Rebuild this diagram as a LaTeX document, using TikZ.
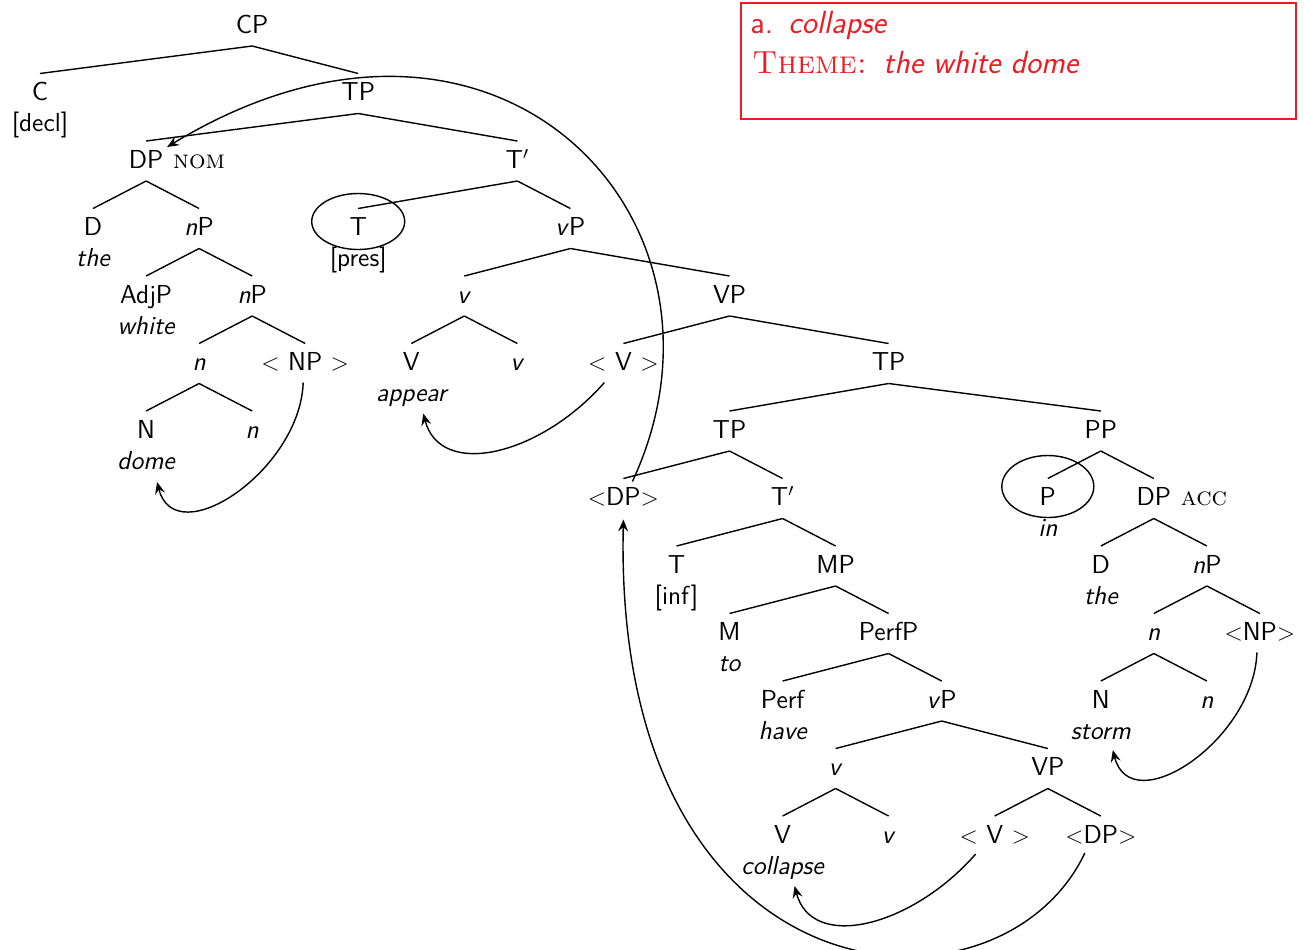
\documentclass[tikz,border=0pt]{standalone}
\usetikzlibrary{calc,arrows.meta}
\definecolor{boxred}{RGB}{237,28,36}
\tikzset{
  w/.style={anchor=base, inner sep=0pt, font=\fontsize{13}{15}\selectfont\sffamily},
  lex/.style={w, font=\fontsize{13}{15}\selectfont\sffamily\itshape},
  feat/.style={w, anchor=base west, font=\fontsize{13}{15}\selectfont\rmfamily\scshape},
  branch/.style={line width=0.7pt},
  move/.style={line width=0.7pt, -{Stealth[length=6pt,width=5pt,inset=2.2pt]}},
  bx/.style={anchor=base west, inner sep=0pt, text=boxred, font=\fontsize{16}{18}\selectfont\sffamily},
}
% branch from the bottom of a mother label to the top of a daughter label
\newcommand\br[2]{\draw[branch] ($(#1.base)+(0,13)$) -- ($(#2.base)+(0,-27)$);}
\begin{document}
\begin{tikzpicture}[x=0.5pt,y=-0.5pt]
\useasboundingbox (0,0) rectangle (1304,949);

% ---- category labels, row by row ----
\node[w] (cp)    at (252.2,33)    {CP};
\node[w] (c)     at (40,100.5)    {C};
\node[w] (tpa)   at (358.2,100.5) {TP};
\node[w] (dpa)   at (146.1,168)   {DP};
\node[w] (tba)   at (517.4,168)   {T$'$};
\node[w] (da)    at (93,235.5)    {D};
\node[w] (npa)   at (199.1,235.5) {\textit{n}P};
\node[w] (ta)    at (358.2,235.5) {T};
\node[w] (vpa)   at (570.4,235.5) {\textit{v}P};
\node[w] (adjp)  at (146.1,303)   {AdjP};
\node[w] (npb)   at (252.2,303)   {\textit{n}P};
\node[w] (va)    at (464.3,303)   {\textit{v}};
\node[w] (bigvpa) at (729.5,303)  {VP};
\node[w] (na)    at (199.1,370.5) {\textit{n}};
\node[w] (npta)  at (305.2,370.5) {$<$ NP $>$};
\node[w] (bva)   at (411.3,370.5) {V};
\node[w] (vb)    at (517.4,370.5) {\textit{v}};
\node[w] (vta)   at (623.4,370.5) {$<$ V $>$};
\node[w] (tpb)   at (888.6,370.5) {TP};
\node[w] (bna)   at (146.1,438)   {N};
\node[w] (nb)    at (252.2,438)   {\textit{n}};
\node[w] (tpc)   at (729.5,438)   {TP};
\node[w] (pp)    at (1100.8,438)  {PP};
\node[w] (dpta)  at (623.4,505.5) {$<$DP$>$};
\node[w] (tbb)   at (782.6,505.5) {T$'$};
\node[w] (p)     at (1047.8,505.5) {P};
\node[w] (dpb)   at (1153.8,505.5) {DP};
\node[w] (tb)    at (676.5,573)   {T};
\node[w] (mp)    at (835.6,573)   {MP};
\node[w] (db)    at (1100.8,573)  {D};
\node[w] (npc)   at (1206.9,573)  {\textit{n}P};
\node[w] (m)     at (729.5,640.5) {M};
\node[w] (perfp) at (888.6,640.5) {PerfP};
\node[w] (nc)    at (1153.8,640.5) {\textit{n}};
\node[w] (nptb)  at (1259.9,640.5) {$<$NP$>$};
\node[w] (perf)  at (782.6,708)   {Perf};
\node[w] (vpb)   at (941.7,708)   {\textit{v}P};
\node[w] (bnb)   at (1100.8,708)  {N};
\node[w] (nd)    at (1206.9,708)  {\textit{n}};
\node[w] (vc)    at (835.6,775.5) {\textit{v}};
\node[w] (bigvpb) at (1047.8,775.5) {VP};
\node[w] (bvb)   at (782.6,843)   {V};
\node[w] (vd)    at (888.6,843)   {\textit{v}};
\node[w] (vtb)   at (994.7,843)   {$<$ V $>$};
\node[w] (dptb)  at (1100.8,843)  {$<$DP$>$};

% ---- case features ----
\node[feat] (nom) at ($(dpa.base east)+(9,0)$) {nom};
\node[feat] (acc) at ($(dpb.base east)+(9,0)$) {acc};

% ---- words and feature values under the heads ----
\node[w]   (decl)     at (40,131.5)     {[decl]};
\node[lex] (thea)     at (93,266.5)     {the};
\node[w]   (pres)     at (358.2,266.5)  {[pres]};
\node[lex] (white)    at (146.1,334)    {white};
\node[lex] (appear)   at (411.3,401.5)  {appear};
\node[lex] (dome)     at (146.1,469)    {dome};
\node[lex] (in)       at (1047.8,536.5) {in};
\node[w]   (inf)      at (676.5,604)    {[inf]};
\node[lex] (theb)     at (1100.8,604)   {the};
\node[lex] (to)       at (729.5,671.5)  {to};
\node[lex] (have)     at (782.6,739)    {have};
\node[lex] (storm)    at (1100.8,739)   {storm};
\node[lex] (collapse) at (782.6,874)    {collapse};

% ---- branches ----
\br{cp}{c}   \br{cp}{tpa}
\br{tpa}{dpa} \br{tpa}{tba}
\br{dpa}{da} \br{dpa}{npa}
\br{tba}{ta} \br{tba}{vpa}
\br{npa}{adjp} \br{npa}{npb}
\br{vpa}{va} \br{vpa}{bigvpa}
\br{npb}{na} \br{npb}{npta}
\br{va}{bva} \br{va}{vb}
\br{bigvpa}{vta} \br{bigvpa}{tpb}
\br{na}{bna} \br{na}{nb}
\br{tpb}{tpc} \br{tpb}{pp}
\br{tpc}{dpta} \br{tpc}{tbb}
\br{pp}{p} \br{pp}{dpb}
\br{tbb}{tb} \br{tbb}{mp}
\br{dpb}{db} \br{dpb}{npc}
\br{mp}{m} \br{mp}{perfp}
\br{npc}{nc} \br{npc}{nptb}
\br{perfp}{perf} \br{perfp}{vpb}
\br{nc}{bnb} \br{nc}{nd}
\br{vpb}{vc} \br{vpb}{bigvpb}
\br{vc}{bvb} \br{vc}{vd}
\br{bigvpb}{vtb} \br{bigvpb}{dptb}

% ---- circled heads ----
\draw[branch] ($(ta.base)+(0,-14)$) ellipse [x radius=23.25pt, y radius=14pt];
\draw[branch] ($(p.base)+(0,-19)$) ellipse [x radius=23pt, y radius=15.5pt];

% ---- movement ----
\draw[move] ($(npta.base)+(-2,12)$) .. controls +(-3,88) and +(18,72) .. ($(dome.base)+(11,13)$);
\draw[move] ($(nptb.base)+(-3,12)$) .. controls +(-3,88) and +(18,72) .. ($(storm.base)+(12,11)$);
\draw[move] ($(vta.base)+(-19,12)$) .. controls +(-64,73) and +(17,66) .. ($(appear.base)+(12,12)$);
\draw[move] ($(vtb.base)+(-19,11)$) .. controls +(-64,73) and +(17,66) .. ($(collapse.base)+(12,12)$);
\draw[move] ($(dptb.base)+(-16,10)$) .. controls +(-85,180) and +(-11,490) .. ($(dpta.base)+(0,14)$);
\draw[move] ($(dpta.base)+(9,-24)$) .. controls +(122,-262) and +(330,-200) .. ($(dpa.base)+(21,-21)$);

% ---- thematic annotation ----
\draw[boxred, line width=0.6pt] (741,3) rectangle (1296,119);
\node[bx] (exnum)   at (750,33) {a.};
\node[bx, font=\fontsize{16}{18}\selectfont\sffamily\itshape] (exverb) at (788,33) {collapse};
\node[bx, font=\fontsize{16}{18}\selectfont\rmfamily\scshape] (theme) at (752,73) {Theme:};
\node[bx, font=\fontsize{16}{18}\selectfont\sffamily\itshape] (themearg) at (883,73) {the white dome};
\end{tikzpicture}
\end{document}
